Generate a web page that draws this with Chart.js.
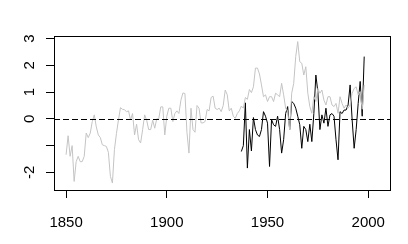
<!DOCTYPE html>
<html>
<head>
<meta charset="utf-8">
<script src="https://cdn.jsdelivr.net/npm/chart.js@4.4.1/dist/chart.umd.min.js"></script>
<style>
  html, body { margin: 0; padding: 0; background: #fff; }
  #wrap { width: 408px; height: 244px; }
</style>
</head>
<body>
<div id="wrap"><canvas id="chart"></canvas></div>
<script>
// long grey record, 1850-1998
const greyStart = 1850;
const greyValues = [
  -1.34, -0.63, -1.4, -1.0, -2.34, -1.6, -1.4, -1.6, -1.6, -1.4,
  -0.53, -0.7, -0.53, -0.1, 0.15, -0.3, -0.6, -0.7, -0.97, -1.0,
  -1.03, -1.25, -2.15, -2.4, -1.15, -0.55, -0.04, 0.42, 0.36, 0.34,
  0.27, 0.3, -0.04, 0.2, -0.6, -0.2, -0.78, -0.9, -0.4, 0.15,
  -0.05, -0.4, -0.4, -0.05, -0.35, 0.0, 0.0, 0.45, 0.45, -0.6,
  0.1, 0.4, 0.4, -0.1, 0.2, 0.3, 0.2, 0.7, 0.97, 0.95,
  -0.5, -1.28, 0.4, -0.4, -0.5, 0.5, 0.4, -0.15, -0.15, -0.1,
  0.35, 0.3, 0.8, 0.85, 0.4, 0.35, 0.4, 0.27, 0.5, 1.08,
  0.9, 0.3, 0.4, 0.1, 0.02, 0.2, 0.3, 0.48, 0.4, 0.8,
  0.73, 1.1, 0.98, 1.2, 1.9, 1.9, 1.68, 1.27, 0.83, 0.9,
  0.65, 0.83, 0.83, 0.65, 0.96, 0.9, 0.83, 1.33, 0.9, 0.4,
  0.27, -0.41, 0.96, 1.33, 2.33, 2.89, 2.14, 2.08, 1.64, 1.95,
  0.96, 0.46, 0.21, 0.83, 0.65, 1.14, 0.96, 1.08, 0.7, 0.52,
  0.83, 0.83, 0.52, 0.46, 0.58, 0.21, 0.83, 0.58, 0.4, 0.52,
  0.4, 0.52, 0.96, 1.14, 1.2, 0.9, 1.02, 0.36, 1.27
];

// short black record, 1937-1998
const blackStart = 1937;
const blackValues = [
  -1.22, -1.0, 0.6, -1.84, -0.4, -1.2, 0.05, -0.4, -0.6, -0.66,
  -0.4, 0.27, 0.1, -0.16, -1.78, -0.03, -0.22, -0.28, 0.1, -0.4,
  -1.28, -0.78, 0.2, 0.46, -0.4, 0.65, 0.58, 0.4, 0.1, -0.22,
  -1.1, -0.28, -0.4, -0.85, -0.2, -0.85, 0.2, 1.64, 1.0, -0.4,
  0.15, -0.16, 0.4, -0.28, 0.15, 0.2, 0.1, -0.78, -1.53, 0.27,
  0.2, 0.33, 0.33, 0.52, 1.27, -0.03, -1.1, -0.4, 0.58, 1.4,
  0.1, 2.33
];

const xTicks = [1850, 1900, 1950, 2000];
const yTicks = [-2, -1, 0, 1, 2, 3];
const yTickLabels = ["-2", "", "0", "1", "2", "3"];
const refLevel = 0;

const toPoints = (start, vals) => vals.map((v, i) => ({ x: start + i, y: v }));

const boxAndRef = {
  id: 'boxAndRef',
  afterDatasetsDraw(chart) {
    const { ctx, chartArea: a, scales } = chart;
    const y0 = Math.round(scales.y.getPixelForValue(refLevel)) + 0.5;
    ctx.save();
    ctx.strokeStyle = '#000';
    ctx.lineWidth = 1;
    ctx.setLineDash([6, 3]);
    ctx.beginPath();
    ctx.moveTo(a.left, y0);
    ctx.lineTo(a.right, y0);
    ctx.stroke();
    ctx.setLineDash([]);
    ctx.strokeRect(Math.round(a.left) + 0.5, Math.round(a.top) + 0.5,
      Math.round(a.right - a.left), Math.round(a.bottom - a.top));
    ctx.restore();
  }
};

Chart.defaults.font.family = "'Liberation Sans', Arial, sans-serif";
Chart.defaults.font.size = 15;
Chart.defaults.color = '#000';

new Chart(document.getElementById('chart'), {
  type: 'line',
  data: {
    datasets: [
      {
        data: toPoints(greyStart, greyValues),
        borderColor: '#c4c4c4',
        borderWidth: 1,
        pointRadius: 0,
        tension: 0
      },
      {
        data: toPoints(blackStart, blackValues),
        borderColor: '#000',
        borderWidth: 1,
        pointRadius: 0,
        tension: 0
      }
    ]
  },
  options: {
    responsive: true,
    maintainAspectRatio: false,
    animation: false,
    events: [],
    layout: { padding: { top: 36, right: 18, left: 0, bottom: 0 } },
    plugins: { legend: { display: false }, tooltip: { enabled: false } },
    scales: {
      x: {
        type: 'linear',
        min: 1844,
        max: 2010.8,
        afterFit: s => { s.height = 54; },
        afterBuildTicks: s => { s.ticks = xTicks.map(v => ({ value: v })); },
        border: { display: false },
        grid: { drawOnChartArea: false, drawTicks: true, tickLength: 8, color: '#000' },
        ticks: { padding: 16, maxRotation: 0, autoSkip: false, callback: v => String(v) }
      },
      y: {
        type: 'linear',
        min: -2.66,
        max: 3.1,
        afterFit: s => { s.width = 54; },
        afterBuildTicks: s => { s.ticks = yTicks.map(v => ({ value: v })); },
        border: { display: false },
        grid: { drawOnChartArea: false, drawTicks: true, tickLength: 8, color: '#000' },
        ticks: {
          padding: 9,
          minRotation: 90,
          maxRotation: 90,
          crossAlign: 'center',
          autoSkip: false,
          callback: v => yTickLabels[yTicks.indexOf(v)]
        }
      }
    }
  },
  plugins: [boxAndRef]
});
</script>
</body>
</html>
